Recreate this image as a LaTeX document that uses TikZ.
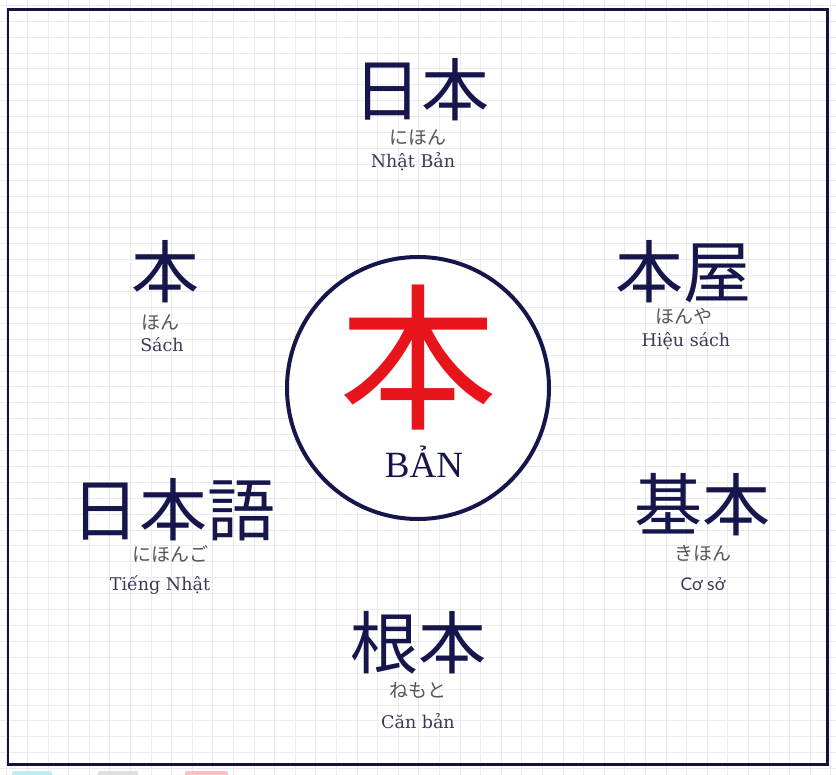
\documentclass[tikz,border=0pt]{standalone}
\usepackage{fontspec}
\setmainfont{DejaVu Serif}
\newfontfamily\cjk{Noto Sans CJK JP}
\newfontfamily\libser{Liberation Serif}
\newfontfamily\latosans{Lato}
\definecolor{navy}{HTML}{16164C}
\definecolor{redk}{HTML}{E8141C}
\definecolor{kana}{HTML}{55555E}
\definecolor{viet}{HTML}{3A3A58}
\definecolor{gridc}{HTML}{EAEAEF}
\tikzset{
  gridline/.style={draw=gridc, line width=0.8pt},
  kanji/.style={inner sep=0pt, text=navy, font=\cjk\fontsize{68}{68}\selectfont},
  kanatext/.style={inner sep=0pt, text=kana, font=\cjk\fontsize{19}{19}\selectfont},
  viettext/.style={inner sep=0pt, text=viet, font=\fontsize{17.5}{17.5}\selectfont},
}
\begin{document}
\begin{tikzpicture}[x=1pt,y=-1pt]
\useasboundingbox (0,0) rectangle (836,775);
\fill[white] (0,0) rectangle (836,775);
% grid
\foreach \i in {0,...,40} { \draw[gridline] ({6.7+\i*20.6},0) -- ({6.7+\i*20.6},775); }
\foreach \j in {0,...,48} { \draw[gridline] (0,{5.3+\j*15.9}) -- (836,{5.3+\j*15.9}); }
% faint fragments under the frame
\fill[cyan!25, rounded corners=2pt] (12,771) rectangle (52,777);
\fill[gray!25, rounded corners=2pt] (98,771) rectangle (138,777);
\fill[red!25, rounded corners=2pt] (185,771) rectangle (228,777);
% frame
\draw[draw=navy!80!black, line width=2.5pt] (8,9.5) rectangle (827.5,764.5);
% centre circle
\node[circle, draw=navy, line width=4pt, fill=white, minimum size=262pt, inner sep=0pt] (circ) at (418,388) {};
\node[inner sep=0pt, text=redk, font=\cjk\fontsize{158}{158}\selectfont] (big) at (418,358) {本};
\node[inner sep=0pt, text=navy, font=\libser\fontsize{37}{37}\selectfont] (ban) at (424,462) {BẢN};
% top
\node[kanji] (k1) at (421,90) {日本};
\node[kanatext] (r1) at (418,137) {にほん};
\node[viettext] (v1) at (413,162) {Nhật Bản};
% upper left
\node[kanji] (k2) at (165,272) {本};
\node[kanatext] (r2) at (160,322) {ほん};
\node[viettext] (v2) at (162,345) {Sách};
% upper right
\node[kanji] (k3) at (683,272) {本屋};
\node[kanatext] (r3) at (684,316) {ほんや};
\node[viettext] (v3) at (686,341) {Hiệu sách};
% lower left
\node[kanji] (k4) at (173,510) {日本語};
\node[kanatext] (r4) at (170,554) {にほんご};
\node[viettext] (v4) at (160,585) {Tiếng Nhật};
% lower right
\node[kanji] (k5) at (702,505) {基本};
\node[kanatext] (r5) at (703,553) {きほん};
\node[inner sep=0pt, text=viet, font=\latosans\fontsize{17.5}{17.5}\selectfont] (v5) at (703,584) {Cơ sở};
% bottom
\node[kanji] (k6) at (418,643) {根本};
\node[kanatext] (r6) at (418,690) {ねもと};
\node[viettext] (v6) at (418,721) {Căn bản};
\end{tikzpicture}
\end{document}
